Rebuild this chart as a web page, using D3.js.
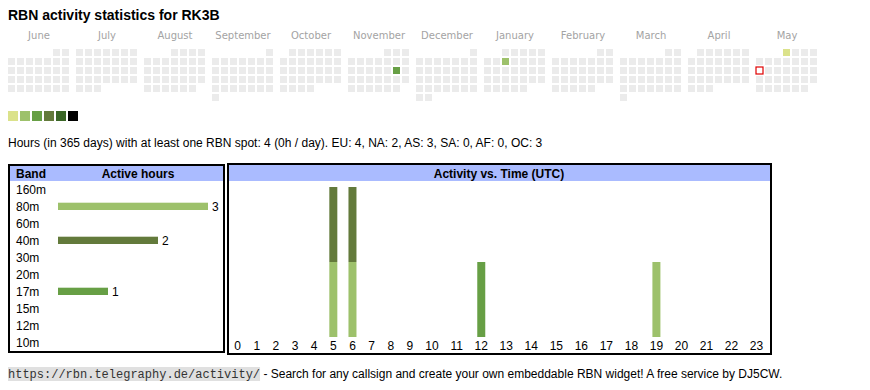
<!DOCTYPE html>
<html><head><meta charset="utf-8">
<script src="https://cdn.jsdelivr.net/npm/d3@7"></script>
<style>body{margin:0;background:#fff}svg{display:block}</style>
</head><body>
<script>
// ---------- data ----------
const title = "RBN activity statistics for RK3B";
const monthLabels = ["June","July","August","September","October","November","December","January","February","March","April","May"];
const firstMonth = "2024-06-01";
const today = "2025-05-12";
const activeDays = ["2024-11-16","2025-01-08","2025-05-01"];
const activeLevels = [3,2,1];
const legendLevels = [1,2,3,4,5,6];
const summaryText = "Hours (in 365 days) with at least one RBN spot: 4 (0h / day). EU: 4, NA: 2, AS: 3, SA: 0, AF: 0, OC: 3";
const bands = ["160m","80m","60m","40m","30m","20m","17m","15m","12m","10m"];
const bandHours = [0,3,0,2,0,0,1,0,0,0];
const hourLabels = ["0","1","2","3","4","5","6","7","8","9","10","11","12","13","14","15","16","17","18","19","20","21","22","23"];
const hourly80m = [0,0,0,0,0,1,1,0,0,0,0,0,0,0,0,0,0,0,0,1,0,0,0,0];
const hourly40m = [0,0,0,0,0,1,1,0,0,0,0,0,0,0,0,0,0,0,0,0,0,0,0,0];
const hourly17m = [0,0,0,0,0,0,0,0,0,0,0,0,1,0,0,0,0,0,0,0,0,0,0,0];
const footerUrl = "https://rbn.telegraphy.de/activity/";
const footerText = " - Search for any callsign and create your own embeddable RBN widget! A free service by DJ5CW.";

// ---------- styles ----------
const levelColors = ["#dbe28b","#9dc16b","#679f45","#637a3b","#3a6626","#000000"];
const bandColorScale = d3.scaleOrdinal(["80m","40m","17m"], ["#9dc16b","#637a3b","#679f45"]).unknown("#999");
const SANS = "'Liberation Sans', Arial, sans-serif";

const svg = d3.select("body").append("svg").attr("width",870).attr("height",390);

// title
svg.append("text").attr("x",8).attr("y",20).attr("font-family",SANS)
  .attr("font-size",14).attr("font-weight","bold").attr("fill","#000").text(title);

// ---------- calendar ----------
const parse = d3.timeParse("%Y-%m-%d");
const start = parse(firstMonth);
const todayDate = parse(today);
const levelByDay = new Map(activeDays.map((d,i)=>[+parse(d), activeLevels[i]]));
const monthX = d3.scaleLinear().domain([0,12]).range([8, 8+12*68]);
const cellX = d3.scaleLinear().domain([0,7]).range([0,63]);
const cellY = d3.scaleLinear().domain([0,6]).range([49,103]);

const cal = svg.append("g");
monthLabels.forEach((label,i)=>{
  const m0 = d3.timeMonth.offset(start,i);
  const m1 = d3.timeMonth.offset(m0,1);
  const days = d3.timeDay.range(m0,m1);
  const firstCol = (m0.getDay()+6)%7;
  cal.append("text").attr("x", monthX(i)+31).attr("y",39)
    .attr("text-anchor","middle").attr("font-family","'DejaVu Sans', Verdana, sans-serif")
    .attr("font-size",10).attr("fill","#a3a3a3").text(label);
  cal.selectAll(null).data(days).enter().append("rect")
    .attr("x", d=>monthX(i)+cellX((d.getDay()+6)%7))
    .attr("y", d=>cellY(Math.floor((d.getDate()-1+firstCol)/7)))
    .attr("width",7).attr("height",7)
    .attr("fill", d=>{const l=levelByDay.get(+d); return l? levelColors[l-1] : "#ebebeb";})
    .each(function(d){
      if(+d === +todayDate){
        d3.select(this).attr("fill","#fff").attr("stroke","#e00000").attr("stroke-width",1.2);
      }
    });
});

// legend
svg.append("g").selectAll("rect").data(legendLevels).enter().append("rect")
  .attr("x",(d,i)=>8+i*12).attr("y",111).attr("width",10).attr("height",10)
  .attr("fill",d=>levelColors[d-1]);

// summary
svg.append("text").attr("x",8).attr("y",146.5).attr("font-family",SANS).attr("font-size",12)
  .attr("fill","#000").text(summaryText);

// ---------- band table ----------
const bt = svg.append("g");
bt.append("rect").attr("x",9).attr("y",165).attr("width",215).attr("height",187)
  .attr("fill","#fff").attr("stroke","#000").attr("stroke-width",2);
bt.append("rect").attr("x",10).attr("y",166).attr("width",213).attr("height",15).attr("fill","#aabbff");
bt.append("text").attr("x",16).attr("y",177.5).attr("font-family",SANS).attr("font-size",12)
  .attr("font-weight","bold").text("Band");
bt.append("text").attr("x",138).attr("y",177.5).attr("text-anchor","middle").attr("font-family",SANS)
  .attr("font-size",12).attr("font-weight","bold").text("Active hours");
const rowY = d3.scaleBand().domain(bands).range([180.8, 180.8+17*bands.length]);
const barW = d3.scaleLinear().domain([0, d3.max(bandHours)]).range([0,150]);
bands.forEach((b,i)=>{
  const cy = rowY(b)+rowY.bandwidth()/2;
  bt.append("text").attr("x",16).attr("y",cy+4.2).attr("font-family",SANS).attr("font-size",12).text(b);
  if(bandHours[i]>0){
    bt.append("rect").attr("x",58).attr("y",cy-3.6).attr("width",barW(bandHours[i])).attr("height",7.3)
      .attr("fill",bandColorScale(b));
    bt.append("text").attr("x",58+barW(bandHours[i])+4).attr("y",cy+4.2).attr("font-family",SANS)
      .attr("font-size",12).text(bandHours[i]);
  }
});

// ---------- time chart ----------
const tc = svg.append("g");
tc.append("rect").attr("x",228).attr("y",164).attr("width",543).attr("height",190)
  .attr("fill","#fff").attr("stroke","#000").attr("stroke-width",2);
tc.append("rect").attr("x",229).attr("y",165).attr("width",541).attr("height",16).attr("fill","#aabbff");
tc.append("text").attr("x",499).attr("y",177.5).attr("text-anchor","middle").attr("font-family",SANS)
  .attr("font-size",12).attr("font-weight","bold").text("Activity vs. Time (UTC)");

// hour columns sized by label width (like an auto-layout table)
const labels = tc.selectAll("text.hl").data(hourLabels).enter().append("text").attr("class","hl")
  .attr("y",350).attr("text-anchor","middle").attr("font-family",SANS).attr("font-size",12).text(d=>d);
const tw = labels.nodes().map(n=>n.getComputedTextLength());
const k = 0.88, total = 541, x0 = 228;
const cst = (total - k*d3.sum(tw))/tw.length;
const colW = tw.map(w=>k*w+cst);
const cum = d3.cumsum(colW);
const centers = colW.map((w,i)=>x0 + cum[i] - w/2);
const hourX = d3.scaleOrdinal(hourLabels, centers);
labels.attr("x", d=>hourX(d));

const rows = hourLabels.map((h,i)=>({hour:h, "80m":hourly80m[i], "40m":hourly40m[i], "17m":hourly17m[i]}));
const stack = d3.stack().keys(["80m","40m","17m"])(rows);
const yMax = d3.max(stack[stack.length-1], d=>d[1]);
const yS = d3.scaleLinear().domain([0,yMax]).range([337,187]);
tc.selectAll("g.s").data(stack).enter().append("g").attr("class","s")
  .attr("fill", s=>bandColorScale(s.key))
  .selectAll("rect").data(s=>s.filter(d=>d[1]>d[0])).enter().append("rect")
  .attr("x", d=>hourX(d.data.hour)-4).attr("width",8)
  .attr("y", d=>yS(d[1])).attr("height", d=>yS(d[0])-yS(d[1]));

// ---------- footer ----------
const ft = svg.append("g");
const urlT = ft.append("text").attr("x",8).attr("y",378).attr("font-family","'Liberation Mono', 'Courier New', monospace")
  .attr("font-size",12).attr("fill","#333").text(footerUrl);
const uw = urlT.node().getComputedTextLength();
ft.insert("rect","text").attr("x",8).attr("y",367).attr("width",uw).attr("height",14).attr("fill","#e0e0e0");
ft.append("text").attr("x",8+uw).attr("y",378).attr("font-family",SANS).attr("font-size",12)
  .attr("fill","#000").attr("xml:space","preserve").style("white-space","pre").text(footerText);
</script>
</body></html>
